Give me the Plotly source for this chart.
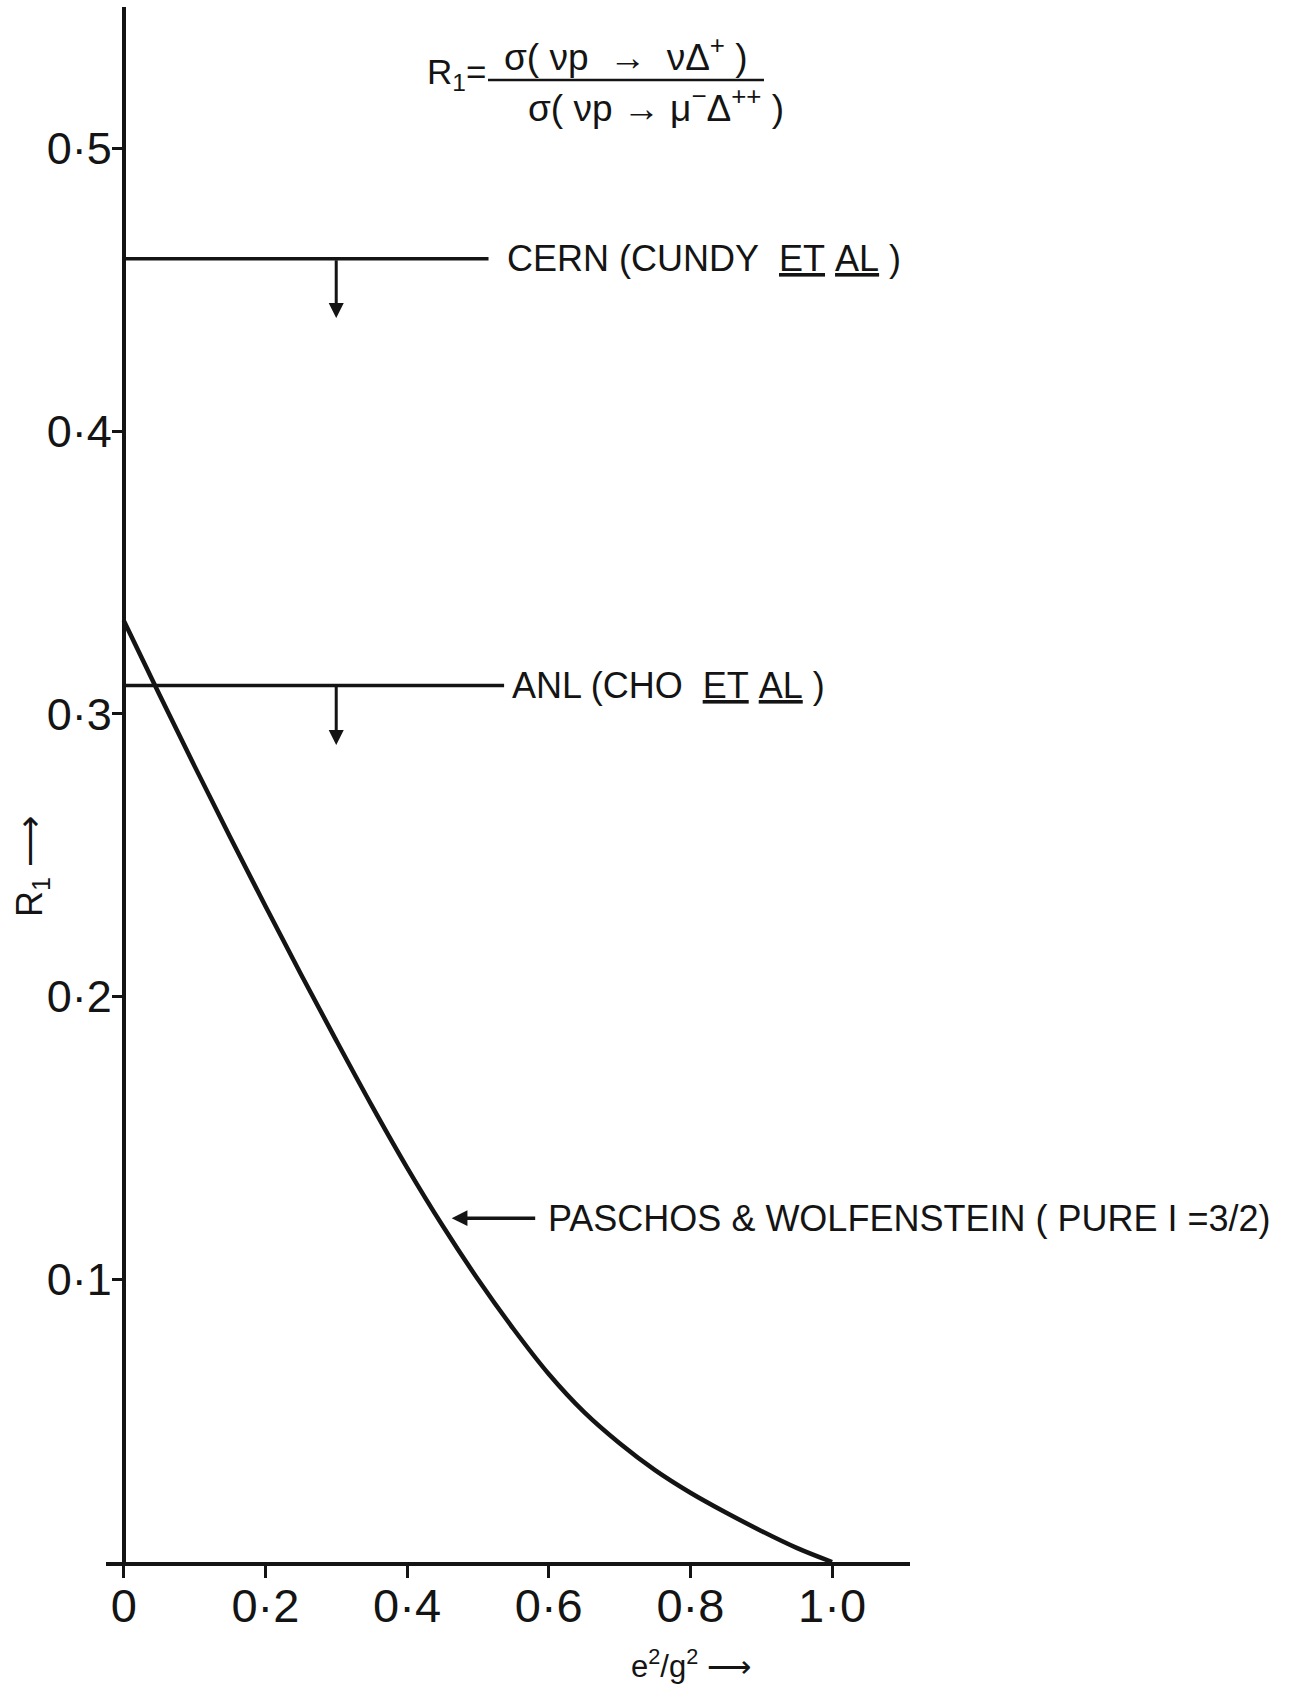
import plotly.graph_objects as go

# ---------------- data ----------------
curve_x = [0.00, 0.05, 0.10, 0.15, 0.20, 0.25, 0.30, 0.35, 0.40, 0.45, 0.50,
           0.55, 0.60, 0.65, 0.70, 0.75, 0.80, 0.85, 0.90, 0.95, 1.00]
curve_r = [0.333, 0.307, 0.2815, 0.2565, 0.232, 0.208, 0.1845, 0.1615, 0.1395, 0.119, 0.100,
           0.0825, 0.0665, 0.053, 0.042, 0.0325, 0.0245, 0.0175, 0.011, 0.005, 0.000]

limit_labels = ["CERN (CUNDY\u00a0\u00a0<u>ET</u>\u00a0<u>AL</u>\u00a0)",
                "ANL (CHO\u00a0\u00a0<u>ET</u>\u00a0<u>AL</u>\u00a0)"]
limit_values = [0.461, 0.310]
limit_line_end = [0.515, 0.537]
limit_arrow_x = [0.30, 0.30]
limit_arrow_tip = [0.440, 0.289]
limit_label_x = [0.538, 0.546]

theory_label = "PASCHOS & WOLFENSTEIN ( PURE I =3/2)"
theory_pointer_tip = [0.463, 0.1216]
theory_pointer_tail_x = 0.583
theory_label_x = 0.596

x_tickvals = [0, 0.2, 0.4, 0.6, 0.8, 1.0]
x_ticktext = ["0", "0·2", "0·4", "0·6", "0·8", "1·0"]
y_tickvals = [0.1, 0.2, 0.3, 0.4, 0.5]
y_ticktext = ["0·1", "0·2", "0·3", "0·4", "0·5"]

# ---------------- layout geometry ----------------
PAGE_W, PAGE_H = 1295, 1687
ML, MR, MT, MB = 106, 385, 7, 125
PW, PH = PAGE_W - ML - MR, PAGE_H - MT - MB
X_RANGE = [-0.025, 1.11]
Y_RANGE = [0.0, 0.55]


def px(xp):
    return (xp - ML) / PW


def py(yp):
    return (PAGE_H - MB - yp) / PH


INK = "#141414"
FONT = "Liberation Sans, Arial, sans-serif"
NB = "\u00a0"

fig = go.Figure()

# theory curve
fig.add_trace(go.Scatter(x=curve_x, y=curve_r, mode="lines",
                         line=dict(color=INK, width=4.5, shape="spline", smoothing=1.0),
                         hoverinfo="skip", showlegend=False))

# experimental upper limits
for val, xend in zip(limit_values, limit_line_end):
    fig.add_trace(go.Scatter(x=[0, xend], y=[val, val], mode="lines",
                             line=dict(color=INK, width=3.5),
                             hoverinfo="skip", showlegend=False))

annotations = []
for lab, val, ax_, tip, lx in zip(limit_labels, limit_values, limit_arrow_x,
                                  limit_arrow_tip, limit_label_x):
    annotations.append(dict(x=ax_, y=tip, ax=ax_, ay=val, xref="x", yref="y",
                            axref="x", ayref="y", text="", showarrow=True,
                            arrowhead=2, arrowsize=1.0, arrowwidth=3, arrowcolor=INK))
    annotations.append(dict(x=lx, y=val, xref="x", yref="y", text=lab,
                            showarrow=False, xanchor="left", yanchor="middle",
                            font=dict(family=FONT, size=36, color=INK)))

# theory label with pointer
annotations.append(dict(x=theory_pointer_tip[0], y=theory_pointer_tip[1],
                        ax=theory_pointer_tail_x, ay=theory_pointer_tip[1],
                        xref="x", yref="y", axref="x", ayref="y", text="",
                        showarrow=True, arrowhead=2, arrowsize=0.9, arrowwidth=3.5,
                        arrowcolor=INK))
annotations.append(dict(x=theory_label_x, y=theory_pointer_tip[1], xref="x", yref="y",
                        text=theory_label, showarrow=False, xanchor="left",
                        yanchor="middle", font=dict(family=FONT, size=36, color=INK)))

# formula at top
annotations.append(dict(x=px(488), y=py(74), xref="paper", yref="paper",
                        text="R<sub>1</sub>=", showarrow=False, xanchor="right",
                        yanchor="middle", font=dict(family=FONT, size=35, color=INK)))
annotations.append(dict(x=px(626), y=py(54), xref="paper", yref="paper",
                        text=f"σ({NB}νp{NB}{NB}→{NB}{NB}νΔ<sup>+</sup>{NB})", showarrow=False,
                        xanchor="center", yanchor="middle",
                        font=dict(family=FONT, size=37, color=INK)))
annotations.append(dict(x=px(656), y=py(105), xref="paper", yref="paper",
                        text=f"σ({NB}νp{NB}→{NB}μ<sup>−</sup>Δ<sup>++</sup>{NB})", showarrow=False,
                        xanchor="center", yanchor="middle",
                        font=dict(family=FONT, size=37, color=INK)))

# axis titles
annotations.append(dict(x=px(32), y=py(866), xref="paper", yref="paper",
                        text="R<sub>1</sub> ⟶", textangle=-90, showarrow=False,
                        xanchor="center", yanchor="middle",
                        font=dict(family=FONT, size=36, color=INK)))
annotations.append(dict(x=px(629), y=py(1664), xref="paper", yref="paper",
                        text="e<sup>2</sup>/g<sup>2</sup> ⟶", showarrow=False,
                        xanchor="left", yanchor="middle",
                        font=dict(family=FONT, size=31, color=INK)))

shapes = [dict(type="line", xref="paper", yref="paper",
               x0=px(488), x1=px(764), y0=py(80), y1=py(80),
               line=dict(color=INK, width=2.5))]

fig.update_layout(
    width=PAGE_W, height=PAGE_H, autosize=False,
    margin=dict(l=ML, r=MR, t=MT, b=MB, pad=0),
    paper_bgcolor="white", plot_bgcolor="white",
    showlegend=False,
    annotations=annotations, shapes=shapes,
    xaxis=dict(range=X_RANGE, showgrid=False, zeroline=False,
               showline=True, linecolor=INK, linewidth=4,
               ticks="outside", ticklen=12, tickwidth=3, tickcolor=INK,
               ticklabelstandoff=-12,
               tickvals=x_tickvals, ticktext=x_ticktext,
               tickfont=dict(family=FONT, size=47, color=INK)),
    yaxis=dict(range=Y_RANGE, showgrid=False, zeroline=False,
               anchor="free", position=(0 - X_RANGE[0]) / (X_RANGE[1] - X_RANGE[0]),
               showline=True, linecolor=INK, linewidth=4,
               ticks="outside", ticklen=10, tickwidth=3, tickcolor=INK,
               ticklabelstandoff=-9,
               tickvals=y_tickvals, ticktext=y_ticktext,
               tickfont=dict(family=FONT, size=45, color=INK)),
)

fig.write_html("out.html")
